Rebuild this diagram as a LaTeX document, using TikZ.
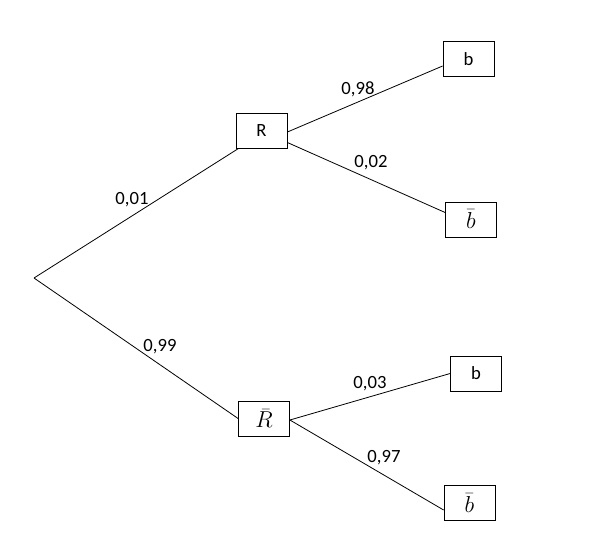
\documentclass[tikz,border=0pt]{standalone}
\usepackage{fontspec}
\setmainfont{Carlito}
\usetikzlibrary{calc}
\begin{document}
\begin{tikzpicture}[x=0.75pt,y=-0.75pt,
  box/.style={draw,line width=0.6pt,minimum width=38.25pt,minimum height=26.25pt,inner sep=0pt,font=\fontsize{14}{16}\selectfont},
  mbox/.style={box,font=\fontsize{16}{18}\selectfont},
  lbl/.style={font=\fontsize{14}{16}\selectfont,inner sep=0pt},
  edge/.style={line width=0.6pt}]
\useasboundingbox (0,0) rectangle (590,547);
\coordinate (root) at (34,278);
\node[box] (R) at (261.5,130.5) {R};
\node[mbox] (Rb) at (264,418.5) {$\bar{R}$};
\node[box] (b1) at (468.5,59) {b};
\node[mbox] (bb1) at (471,219.5) {$\bar{b}$};
\node[box] (b2) at (476,373.5) {b};
\node[mbox] (bb2) at (469.5,503) {$\bar{b}$};
\draw[edge] (root) -- ($(R.south west)+(3,0)$);
\draw[edge] (root) -- (Rb.west);
\draw[edge] ($(R.east)+(0,1.5)$) -- ($(b1.west)+(0,7)$);
\draw[edge] ($(R.east)+(0,12)$) -- ($(bb1.west)+(0,-7)$);
\draw[edge] ($(Rb.east)+(0,1.5)$) -- (b2.west);
\draw[edge] ($(Rb.east)+(0,1.5)$) -- ($(bb2.west)+(0,7)$);
\node[lbl] (l1) at (132,200) {0,01};
\node[lbl] (l2) at (160,347) {0,99};
\node[lbl] (l3) at (358,89) {0,98};
\node[lbl] (l4) at (371,163) {0,02};
\node[lbl] (l5) at (370,384) {0,03};
\node[lbl] (l6) at (384,458) {0,97};
\end{tikzpicture}
\end{document}
